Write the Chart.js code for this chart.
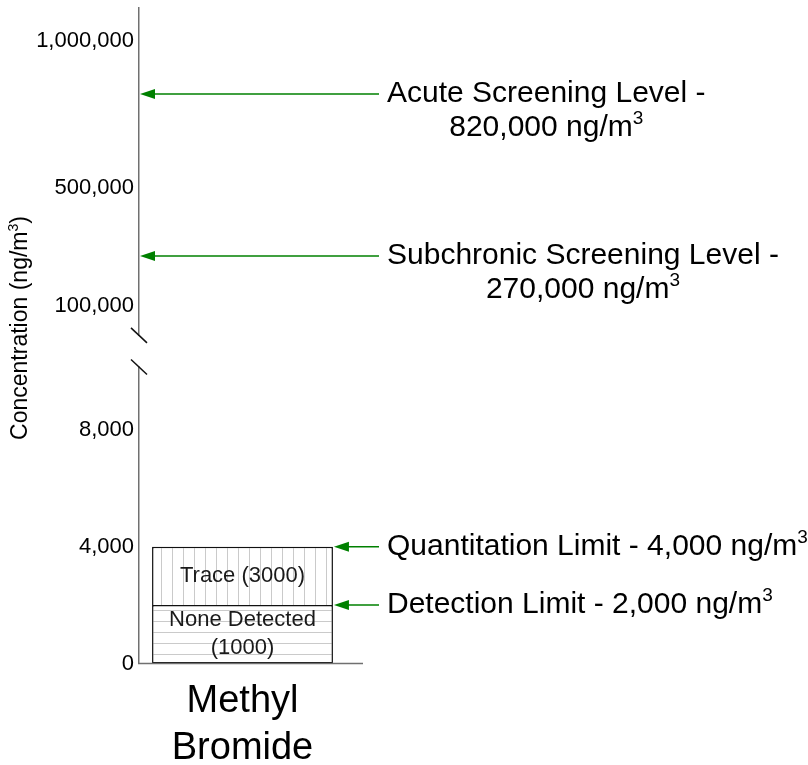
<!DOCTYPE html>
<html>
<head>
<meta charset="utf-8">
<title>Methyl Bromide</title>
<script src="https://cdn.jsdelivr.net/npm/chart.js@4.4.1/dist/chart.umd.min.js"></script>
<style>
  body { margin: 0; background: #fff; }
  canvas { display: block; }
</style>
</head>
<body>
<canvas id="chart" width="808" height="765"></canvas>
<script>
const categories = [['Methyl', 'Bromide']];
const noneDetected = [2000];
const trace = [2000];
const barLabels = [['None Detected', '(1000)'], ['Trace (3000)']];
const lowTicks = [0, 4000, 8000];
const highTicks = [100000, 500000, 1000000];
const screeningValues = [820000, 270000];
const screeningLabels = [['Acute Screening Level -', '820,000 ng/m'], ['Subchronic Screening Level -', '270,000 ng/m']];
const limitValues = [4000, 2000];
const limitLabels = ['Quantitation Limit - 4,000 ng/m', 'Detection Limit - 2,000 ng/m'];

const FONT = "'Liberation Sans', Arial, sans-serif";
const GREEN = '#008000';
const AXIS = '#707070';

function hatch(vertical) {
    const c = document.createElement('canvas');
    c.width = 11;
    c.height = 11;
    const g = c.getContext('2d');
    g.fillStyle = '#fff';
    g.fillRect(0, 0, 11, 11);
    g.strokeStyle = '#cacaca';
    g.lineWidth = 1;
    g.beginPath();
    if (vertical) {
        g.moveTo(7.5, 0); g.lineTo(7.5, 11);
    } else {
        g.moveTo(0, 5.5); g.lineTo(11, 5.5);
    }
    g.stroke();
    return g.createPattern(c, 'repeat');
}

// text with a superscript 3 (ng/m3), optional text after it
function supText(ctx, text, after, x, y, size, align) {
    const big = size + 'px ' + FONT;
    const small = Math.round(size * 0.62) + 'px ' + FONT;
    ctx.font = big;
    const w = ctx.measureText(text).width;
    const aw = ctx.measureText(after).width;
    ctx.font = small;
    const sw = ctx.measureText('3').width;
    const left = align === 'center' ? x - (w + sw + aw) / 2 : x;
    ctx.textAlign = 'left';
    ctx.textBaseline = 'middle';
    ctx.font = big;
    ctx.fillText(text, left, y);
    ctx.fillText(after, left + w + sw, y);
    ctx.font = small;
    ctx.fillText('3', left + w, y - size * 0.3);
}

function arrow(ctx, tipX, endX, y) {
    ctx.strokeStyle = GREEN;
    ctx.fillStyle = GREEN;
    ctx.lineWidth = 1.5;
    ctx.beginPath();
    ctx.moveTo(tipX + 10, y);
    ctx.lineTo(endX, y);
    ctx.stroke();
    ctx.beginPath();
    ctx.moveTo(tipX, y);
    ctx.lineTo(tipX + 15, y - 5);
    ctx.lineTo(tipX + 15, y + 5);
    ctx.closePath();
    ctx.fill();
}

const overlay = {
    id: 'overlay',
    afterDraw(chart) {
        const ctx = chart.ctx;
        const area = chart.chartArea;
        const hi = chart.scales.yHigh;
        const lo = chart.scales.yLow;
        ctx.save();

        // bottom axis line
        ctx.strokeStyle = AXIS;
        ctx.lineWidth = 1.5;
        ctx.beginPath();
        ctx.moveTo(area.left - 1, lo.bottom);
        ctx.lineTo(area.right + 17, lo.bottom);
        ctx.stroke();

        // axis break marks
        ctx.strokeStyle = '#111';
        ctx.lineWidth = 1.5;
        [hi.bottom, lo.top].forEach(y => {
            ctx.beginPath();
            ctx.moveTo(area.left - 8, y - 7.5);
            ctx.lineTo(area.left + 8, y + 7.5);
            ctx.stroke();
        });

        // labels inside bars
        ctx.fillStyle = '#1a1a1a';
        ctx.font = '22px ' + FONT;
        ctx.textAlign = 'center';
        ctx.textBaseline = 'middle';
        barLabels.forEach((lines, i) => {
            const bar = chart.getDatasetMeta(i).data[0];
            const cy = (bar.y + bar.base) / 2;
            lines.forEach((t, j) => {
                ctx.fillText(t, bar.x, cy + (j - (lines.length - 1) / 2) * 28);
            });
        });

        // screening levels
        screeningValues.forEach((v, i) => {
            const y = hi.getPixelForValue(v);
            arrow(ctx, area.left + 1, 379, y);
            ctx.fillStyle = '#000';
            ctx.font = '30px ' + FONT;
            ctx.textAlign = 'left';
            ctx.textBaseline = 'middle';
            const l1 = screeningLabels[i][0];
            ctx.fillText(l1, 387, y);
            const cx = 387 + ctx.measureText(l1).width / 2;
            supText(ctx, screeningLabels[i][1], '', cx, y + 34, 30, 'center');
        });

        // quantitation / detection limits
        const bar = chart.getDatasetMeta(0).data[0];
        const barRight = bar.x + bar.width / 2;
        limitValues.forEach((v, i) => {
            const y = lo.getPixelForValue(v);
            arrow(ctx, barRight + 1, 379, y);
            ctx.fillStyle = '#000';
            supText(ctx, limitLabels[i], '', 387, y, 30, 'left');
        });

        // y axis title
        ctx.translate(21, 328);
        ctx.rotate(-Math.PI / 2);
        ctx.fillStyle = '#000';
        supText(ctx, 'Concentration (ng/m', ')', 0, 0, 23, 'center');
        ctx.restore();
    }
};

const ctx = document.getElementById('chart').getContext('2d');

const tickFont = { family: FONT, size: 22 };

function fitY(s) {
    s.width = 139;
    s.paddingTop = 0;
    s.paddingBottom = 0;
}

new Chart(ctx, {
    type: 'bar',
    data: {
        labels: categories,
        datasets: [
            {
                label: 'None Detected',
                data: noneDetected,
                yAxisID: 'yLow',
                backgroundColor: hatch(false),
                borderColor: '#111',
                borderWidth: 1.5,
                borderSkipped: false,
                barPercentage: 0.874,
                categoryPercentage: 1
            },
            {
                label: 'Trace',
                data: trace,
                yAxisID: 'yLow',
                backgroundColor: hatch(true),
                borderColor: '#111',
                borderWidth: { top: 1.5, left: 1.5, right: 1.5, bottom: 0 },
                borderSkipped: false,
                barPercentage: 0.874,
                categoryPercentage: 1
            }
        ]
    },
    options: {
        responsive: false,
        animation: false,
        devicePixelRatio: 1,
        layout: { padding: { top: 8, right: 462, bottom: 0, left: 0 } },
        plugins: {
            legend: { display: false },
            tooltip: { enabled: false }
        },
        scales: {
            x: {
                type: 'category',
                stacked: true,
                offset: true,
                grid: { display: false, drawTicks: false },
                border: { display: false },
                ticks: { color: '#000', font: { family: FONT, size: 38, lineHeight: 1.22 }, padding: 15, maxRotation: 0 },
                afterFit(s) { s.height = 101.5; s.paddingLeft = 0; s.paddingRight = 0; }
            },
            yLow: {
                type: 'linear',
                position: 'left',
                stack: 'y',
                stackWeight: 296.5,
                stacked: true,
                min: 0,
                max: 10150,
                afterBuildTicks(s) { s.ticks = lowTicks.map(v => ({ value: v })); },
                grid: { display: false, drawTicks: false },
                border: { color: AXIS, width: 1.5 },
                ticks: { color: '#000', font: tickFont, padding: 5, callback: v => v.toLocaleString('en-US') },
                afterFit: fitY
            },
            yGap: {
                type: 'linear',
                position: 'left',
                stack: 'y',
                stackWeight: 31.6,
                min: 0,
                max: 1,
                grid: { display: false, drawTicks: false },
                border: { display: false },
                ticks: { display: false },
                afterFit: fitY
            },
            yHigh: {
                type: 'linear',
                position: 'left',
                stack: 'y',
                stackWeight: 327.4,
                min: 0,
                max: 1112000,
                afterBuildTicks(s) { s.ticks = highTicks.map(v => ({ value: v })); },
                grid: { display: false, drawTicks: false },
                border: { color: AXIS, width: 1.5 },
                ticks: { color: '#000', font: tickFont, padding: 5, callback: v => v.toLocaleString('en-US') },
                afterFit: fitY
            }
        }
    },
    plugins: [overlay]
});
</script>
</body>
</html>
